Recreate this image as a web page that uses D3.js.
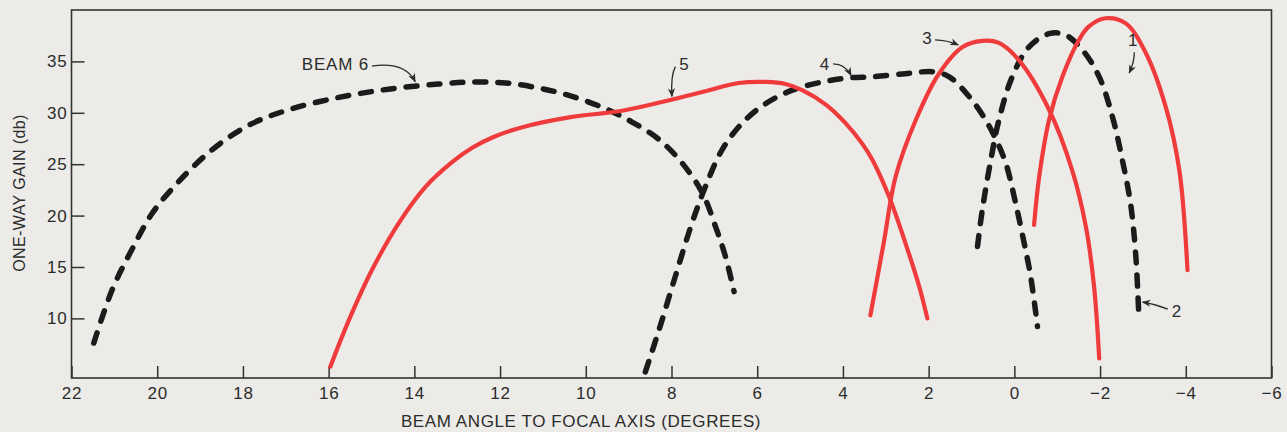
<!DOCTYPE html>
<html>
<head>
<meta charset="utf-8">
<script src="https://cdn.jsdelivr.net/npm/d3@7"></script>
<style>
  html, body { margin: 0; padding: 0; background: #ecebe8; }
  svg { display: block; }
  text { font-family: "Liberation Sans", Arial, sans-serif; fill: #2b2b2b; }
</style>
</head>
<body>
<svg id="chart" width="1287" height="432"></svg>
<script>
// Beam patterns: beam angle to focal axis (degrees) vs one-way gain (db)
const beam6Angle = [21.48, 21.05, 20.59, 20.12, 19.50, 18.72, 17.86, 16.93, 15.76, 14.60, 13.43, 12.65, 11.87, 11.09, 10.32, 9.54, 8.92, 8.29, 7.75, 7.28, 6.97, 6.74, 6.54];
const beam6Gain  = [7.6, 12.8, 16.7, 20.2, 23.3, 26.4, 28.8, 30.3, 31.5, 32.3, 32.8, 33.0, 32.9, 32.4, 31.6, 30.4, 29.1, 27.4, 25.1, 22.2, 18.9, 16.0, 12.6];

const beam5Angle = [15.96, 15.53, 14.99, 14.36, 13.74, 13.12, 12.65, 12.18, 11.48, 10.32, 9.15, 7.98, 7.21, 6.43, 5.80, 5.34, 4.95, 4.40, 3.94, 3.55, 3.31, 2.92, 2.54, 2.22, 2.03];
const beam5Gain  = [5.3, 9.8, 14.7, 19.3, 22.8, 25.2, 26.6, 27.6, 28.6, 29.6, 30.2, 31.3, 32.1, 32.9, 33.0, 32.8, 32.2, 30.8, 29.0, 27.0, 25.4, 21.8, 17.3, 13.1, 10.0];

const beam4Angle = [8.61, 8.29, 7.91, 7.52, 7.21, 6.82, 6.35, 5.80, 5.18, 4.48, 3.86, 3.31, 2.54, 1.91, 1.52, 1.06, 0.67, 0.43, 0.20, -0.03, -0.23, -0.38, -0.54];
const beam4Gain  = [4.8, 8.9, 14.1, 19.3, 22.8, 26.4, 29.0, 30.9, 32.2, 33.0, 33.4, 33.5, 33.8, 34.0, 33.5, 31.6, 29.3, 27.4, 25.1, 21.2, 17.3, 14.1, 9.2];

const beam3Angle = [3.36, 3.05, 2.77, 2.30, 1.76, 1.21, 0.75, 0.36, -0.11, -0.81, -1.35, -1.67, -1.86, -1.98];
const beam3Gain  = [10.3, 17.3, 23.8, 29.3, 33.8, 36.4, 37.0, 36.8, 35.1, 30.3, 24.4, 18.9, 13.1, 6.1];

const beam2Angle = [0.86, 0.75, 0.55, 0.36, 0.05, -0.34, -0.81, -1.18, -1.59, -1.98, -2.29, -2.52, -2.71, -2.83, -2.90];
const beam2Gain  = [17.0, 20.5, 25.4, 29.3, 33.5, 36.4, 37.7, 37.6, 36.1, 33.5, 29.6, 25.4, 21.2, 16.3, 10.7];

const beam1Angle = [-0.46, -0.58, -0.81, -1.12, -1.51, -1.74, -2.13, -2.60, -3.07, -3.53, -3.85, -4.04];
const beam1Gain  = [19.1, 23.8, 29.3, 33.5, 37.1, 38.4, 39.2, 38.7, 35.8, 30.6, 24.4, 14.7];

// Axis ticks
const xTicks = [22, 20, 18, 16, 14, 12, 10, 8, 6, 4, 2, 0, -2, -4, -6];
const yTicks = [10, 15, 20, 25, 30, 35];

// Beam labels with leader arrows (angle, gain)
const labelText   = ["BEAM 6", "5", "4", "3", "1", "2"];
const labelAnchor = ["end", "middle", "middle", "middle", "middle", "start"];
const labelAngle  = [15.06, 7.70, 4.42, 2.03, -2.77, -3.67];
const labelGain   = [34.16, 34.16, 34.16, 36.7, 36.5, 10.13];
const arrowFromAngle = [14.99, 7.91, 4.23, 1.85, -2.80, -3.58];
const arrowFromGain  = [34.55, 34.49, 34.75, 37.1, 35.9, 10.91];
const arrowViaAngle  = [14.22, 8.02, 3.95, 1.57, -2.80, -3.30];
const arrowViaGain   = [35.0, 33.6, 34.75, 37.08, 34.94, 11.4];
const arrowToAngle   = [13.98, 7.99, 3.81, 1.31, -2.68, -2.99];
const arrowToGain    = [33.03, 31.6, 33.63, 36.6, 33.87, 11.59];

const RED = "#ef3b3c";
const BLACK = "#1b1b1b";

const svg = d3.select("#chart");

const x = d3.scaleLinear().domain([22, -6]).range([71.5, 1271.5]);
const y = d3.scaleLinear().domain([4.2, 40]).range([378, 10]);

// Plot frame
svg.append("rect")
  .attr("x", x(22)).attr("y", y(40))
  .attr("width", x(-6) - x(22)).attr("height", y(4.2) - y(40))
  .attr("fill", "none").attr("stroke", "#333").attr("stroke-width", 1.6);

// Axes (ticks point inward)
const xAxis = svg.append("g")
  .attr("transform", `translate(0,${y(4.2)})`)
  .call(d3.axisBottom(x).tickValues(xTicks).tickSizeInner(-12).tickSizeOuter(0).tickPadding(9)
    .tickFormat(d => d < 0 ? "\u2212" + Math.abs(d) : d));
const yAxis = svg.append("g")
  .attr("transform", `translate(${x(22)},0)`)
  .call(d3.axisLeft(y).tickValues(yTicks).tickSizeInner(-13).tickSizeOuter(0).tickPadding(4));

[xAxis, yAxis].forEach(g => {
  g.select(".domain").remove();
  g.selectAll(".tick line").attr("stroke", "#333").attr("stroke-width", 1.5);
  g.selectAll(".tick text")
    .attr("fill", "#2b2b2b")
    .style("font-family", '"Liberation Sans", Arial, sans-serif')
    .style("font-size", "17px")
    .style("letter-spacing", "0.8px");
});

// Axis titles
svg.append("text")
  .attr("x", 581).attr("y", 427)
  .attr("text-anchor", "middle")
  .style("font-size", "17px").style("letter-spacing", "0.6px")
  .text("BEAM ANGLE TO FOCAL AXIS (DEGREES)");

svg.append("text")
  .attr("transform", "translate(25,193) rotate(-90)")
  .attr("text-anchor", "middle")
  .style("font-size", "16px").style("letter-spacing", "0.4px")
  .text("ONE-WAY GAIN (db)");

// Curves
const line = d3.line()
  .x(d => x(d[0])).y(d => y(d[1]))
  .curve(d3.curveCatmullRom.alpha(0.5));

const zip = (a, g) => a.map((v, i) => [v, g[i]]);

const dashed = [zip(beam6Angle, beam6Gain), zip(beam4Angle, beam4Gain), zip(beam2Angle, beam2Gain)];
const solid  = [zip(beam5Angle, beam5Gain), zip(beam3Angle, beam3Gain), zip(beam1Angle, beam1Gain)];

svg.append("g").selectAll("path").data(dashed).join("path")
  .attr("d", line)
  .attr("fill", "none").attr("stroke", BLACK)
  .attr("stroke-width", 5.5)
  .attr("stroke-dasharray", "11 12")
  .attr("stroke-linecap", "round");

svg.append("g").selectAll("path").data(solid).join("path")
  .attr("d", line)
  .attr("fill", "none").attr("stroke", RED)
  .attr("stroke-width", 4.2)
  .attr("stroke-linecap", "round");

// Arrowhead marker
svg.append("defs").append("marker")
  .attr("id", "arrowhead")
  .attr("viewBox", "0 0 10 10")
  .attr("refX", 9).attr("refY", 5)
  .attr("markerWidth", 9).attr("markerHeight", 9)
  .attr("markerUnits", "userSpaceOnUse")
  .attr("orient", "auto")
  .append("path")
  .attr("d", "M0,1 L10,5 L0,9 L3,5 Z")
  .attr("fill", "#2b2b2b");

// Beam labels
const labels = svg.append("g");
labelText.forEach((t, i) => {
  labels.append("path")
    .attr("d", `M${x(arrowFromAngle[i])},${y(arrowFromGain[i])} Q${x(arrowViaAngle[i])},${y(arrowViaGain[i])} ${x(arrowToAngle[i])},${y(arrowToGain[i])}`)
    .attr("fill", "none").attr("stroke", "#2b2b2b").attr("stroke-width", 1.3)
    .attr("marker-end", "url(#arrowhead)");
  labels.append("text")
    .attr("x", x(labelAngle[i])).attr("y", y(labelGain[i]))
    .attr("text-anchor", labelAnchor[i])
    .style("font-size", "17px").style("letter-spacing", "0.8px")
    .text(t);
});
</script>
</body>
</html>
